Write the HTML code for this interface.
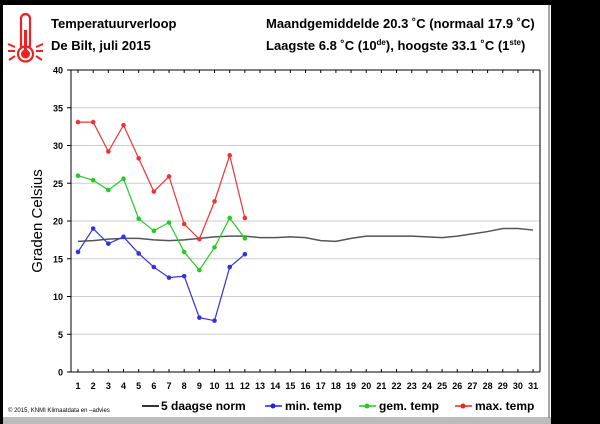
<!DOCTYPE html>
<html><head><meta charset="utf-8"><style>
body{margin:0;background:#000;width:600px;height:424px;overflow:hidden;font-family:"Liberation Sans",Arial,sans-serif}
</style></head><body>
<svg id="s" width="600" height="424" xmlns="http://www.w3.org/2000/svg" style="position:absolute;left:0;top:0">
<rect x="0" y="0" width="600" height="424" fill="#000"/>
<rect x="3" y="5" width="548" height="413" fill="#fff"/>
<rect x="3" y="417" width="548" height="7" fill="#bbb"/>
<line x1="549" y1="5" x2="549" y2="418" stroke="#888" stroke-width="1.5"/>
<g fill="none" stroke="#e22" stroke-width="2.2">
<rect x="21" y="14" width="9" height="36" rx="4.5"/>
<circle cx="25.5" cy="54" r="7.5" fill="#fff"/>
</g>
<circle cx="25.5" cy="54" r="4.5" fill="#e22"/>
<rect x="24" y="30" width="3" height="22" fill="#e22"/>
<g stroke="#e22" stroke-width="2">
<line x1="8" y1="51" x2="15" y2="51"/><line x1="8" y1="44" x2="15" y2="47"/><line x1="9" y1="60" x2="15" y2="56"/>
<line x1="36" y1="51" x2="43" y2="51"/><line x1="36" y1="47" x2="43" y2="44"/><line x1="36" y1="56" x2="42" y2="60"/>
</g>
<g font-weight="bold" font-size="13" fill="#000">
<text x="51" y="28">Temperatuurverloop</text>
<text x="51" y="50">De Bilt, juli 2015</text>
<text x="266" y="28">Maandgemiddelde 20.3 ˚C (normaal 17.9 ˚C)</text>
<text x="266" y="50">Laagste 6.8 ˚C (10<tspan font-size="8" dy="-5">de</tspan><tspan dy="5">), hoogste 33.1 ˚C (1</tspan><tspan font-size="8" dy="-5">ste</tspan><tspan dy="5">)</tspan></text>
</g>
<g id="plot"></g>
<text transform="translate(42,221) rotate(-90)" text-anchor="middle" font-size="15" fill="#000">Graden Celsius</text>
<text x="8" y="412" font-size="6" fill="#000">© 2015, KNMI Klimaatdata en –advies</text>
<g font-size="12" font-weight="bold" fill="#000">
<line x1="142" y1="406" x2="159" y2="406" stroke="#333" stroke-width="2"/>
<text x="161" y="410">5 daagse norm</text>
<line x1="265" y1="406" x2="282" y2="406" stroke="#22d" stroke-width="1.5"/><circle cx="273" cy="406" r="2.5" fill="#22d"/>
<text x="285" y="410">min. temp</text>
<line x1="359" y1="406" x2="376" y2="406" stroke="#2c2" stroke-width="1.5"/><circle cx="367" cy="406" r="2.5" fill="#2c2"/>
<text x="379" y="410">gem. temp</text>
<line x1="455" y1="406" x2="472" y2="406" stroke="#e22" stroke-width="1.5"/><circle cx="463" cy="406" r="2.5" fill="#e22"/>
<text x="475" y="410">max. temp</text>
</g>
</svg>
<script>
var g=document.getElementById('plot'),h='';
function X(d){return 78+(d-1)*15.17}function Y(v){return 372-v*7.55}
for(var v=5;v<=40;v+=5)h+='<line x1="71" y1="'+Y(v)+'" x2="540" y2="'+Y(v)+'" stroke="#ccc" stroke-width="1"/>';
h+='<line x1="71" y1="70" x2="71" y2="372" stroke="#000" stroke-width="1"/><line x1="540" y1="70" x2="540" y2="372" stroke="#000" stroke-width="1"/>';
h+='<line x1="67" y1="70" x2="540" y2="70" stroke="#000"/><line x1="67" y1="372" x2="540" y2="372" stroke="#000"/>';
for(var v=0;v<=40;v+=5)h+='<line x1="67" y1="'+Y(v)+'" x2="71" y2="'+Y(v)+'" stroke="#000"/><text x="63" y="'+(Y(v)+3.5)+'" text-anchor="end" font-size="9" font-weight="bold">'+v+'</text>';
for(var d=1;d<=31;d++){var x=X(d);h+='<line x1="'+x+'" y1="70" x2="'+x+'" y2="73" stroke="#000"/><line x1="'+x+'" y1="369" x2="'+x+'" y2="372" stroke="#000"/><text x="'+x+'" y="389" text-anchor="middle" font-size="9" font-weight="bold">'+d+'</text>';}
var norm=[17.3,17.4,17.6,17.7,17.7,17.5,17.4,17.5,17.7,17.9,18.0,18.0,17.8,17.8,17.9,17.8,17.4,17.3,17.7,18.0,18.0,18.0,18.0,17.9,17.8,18.0,18.3,18.6,19.0,19.0,18.8];
function pl(a,c,dots,w){var p=a.map(function(v,i){return X(i+1)+','+Y(v)}).join(' ');var s='<polyline points="'+p+'" fill="none" stroke="'+c+'" stroke-width="'+w+'"/>';if(dots)a.forEach(function(v,i){s+='<circle cx="'+X(i+1)+'" cy="'+Y(v)+'" r="2.3" fill="'+c+'"/>'});return s}
h+=pl(norm,'#555',0,1.5);
h+=pl([15.9,19.0,17.0,17.9,15.7,13.9,12.5,12.7,7.2,6.8,13.9,15.6],'#33d',1,1.2);
h+=pl([26.0,25.4,24.1,25.6,20.3,18.7,19.8,15.9,13.5,16.5,20.4,17.7],'#2c2',1,1.2);
h+=pl([33.1,33.1,29.2,32.7,28.3,23.9,25.9,19.6,17.6,22.6,28.7,20.4],'#e33',1,1.2);
g.innerHTML=h;
</script>
</body></html>
